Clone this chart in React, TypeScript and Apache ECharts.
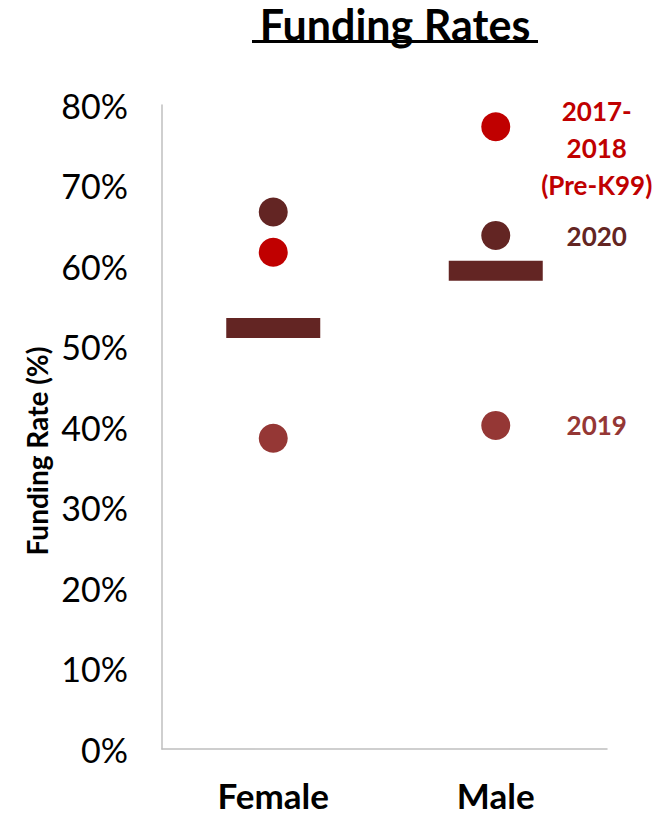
import React, { useEffect, useRef } from "react";
import * as echarts from "echarts";

const categories = ["Female", "Male"];
const rate2017_2018 = [61.7, 77.3];
const rate2019 = [38.6, 40.2];
const rate2020 = [66.7, 63.8];
const meanRate = [52.3, 59.4];
const yTicks = { min: 0, max: 80, interval: 10 };

const RED = "#C00000";
const DARK = "#632523";
const MID = "#953735";
const FONT = "Lato";

export default function App() {
  const ref = useRef<HTMLDivElement>(null);
  useEffect(() => {
    if (!ref.current) return;
    const chart = echarts.init(ref.current, undefined, { renderer: "svg" });
    const lbl = (text: string, color: string, offset: number[]) => ({
      show: true,
      position: "inside",
      offset,
      formatter: text,
      color,
      fontFamily: FONT,
      fontWeight: "bold",
      fontSize: 26,
      lineHeight: 37,
      align: "center",
      verticalAlign: "middle",
    });
    const mk = (vals: number[], color: string, labelText: string, offset: number[]) =>
      vals.map((v, i) =>
        i === 1
          ? { value: [categories[i], v], label: lbl(labelText, color, offset) }
          : { value: [categories[i], v] }
      );
    chart.setOption({
      animation: false,
      grid: { left: 162, right: 62, top: 105, bottom: 65 },
      xAxis: {
        type: "category",
        data: categories,
        boundaryGap: true,
        axisLine: { lineStyle: { color: "#BFBFBF", width: 1.5 } },
        axisTick: { show: false },
        axisLabel: {
          color: "#000",
          fontFamily: FONT,
          fontWeight: "bold",
          fontSize: 35,
          margin: 28,
        },
        splitLine: { show: false },
      },
      yAxis: {
        type: "value",
        min: yTicks.min,
        max: yTicks.max,
        interval: yTicks.interval,
        axisLine: { show: true, lineStyle: { color: "#BFBFBF", width: 1.5 } },
        axisTick: { show: false },
        splitLine: { show: false },
        axisLabel: {
          formatter: "{value}%",
          color: "#000",
          fontFamily: FONT,
          fontSize: 34,
          margin: 34,
        },
      },
      graphic: [
        {
          type: "text",
          x: 395,
          y: 24,
          style: {
            text: "Funding Rates",
            fill: "#000",
            font: `bold 43px ${FONT}`,
            textAlign: "center",
            textVerticalAlign: "middle",
          },
        },
        {
          type: "rect",
          shape: { x: 252, y: 40, width: 286, height: 3 },
          style: { fill: "#000" },
        },
        {
          type: "text",
          x: 37,
          y: 451,
          rotation: Math.PI / 2,
          style: {
            text: "Funding Rate (%)",
            fill: "#000",
            font: `bold 28px ${FONT}`,
            textAlign: "center",
            textVerticalAlign: "middle",
          },
        },
      ],
      series: [
        {
          name: "Mean",
          type: "scatter",
          symbol: "rect",
          symbolSize: [94, 20],
          itemStyle: { color: DARK, opacity: 1 },
          data: meanRate.map((v, i) => [categories[i], v]),
          z: 1,
        },
        {
          name: "2017-2018",
          type: "scatter",
          symbolSize: 29,
          itemStyle: { color: RED, opacity: 1 },
          data: mk(rate2017_2018, RED, "2017-\n2018\n(Pre-K99)", [101, 21]),
          z: 2,
        },
        {
          name: "2019",
          type: "scatter",
          symbolSize: 29,
          itemStyle: { color: MID, opacity: 1 },
          data: mk(rate2019, MID, "2019", [101, 0]),
          z: 2,
        },
        {
          name: "2020",
          type: "scatter",
          symbolSize: 29,
          itemStyle: { color: DARK, opacity: 1 },
          data: mk(rate2020, DARK, "2020", [101, 1]),
          z: 2,
        },
      ],
    });
    return () => chart.dispose();
  }, []);
  return (
    <div
      ref={ref}
      style={{ position: "absolute", left: 0, top: 0, width: 669, height: 814 }}
    />
  );
}
